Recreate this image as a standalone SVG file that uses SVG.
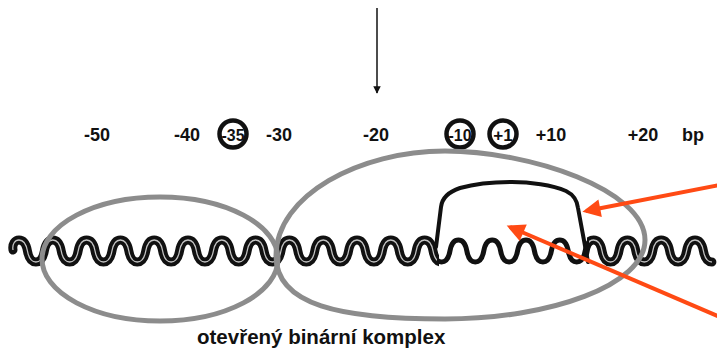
<svg xmlns="http://www.w3.org/2000/svg" xmlns:xlink="http://www.w3.org/1999/xlink" width="717" height="355" viewBox="0 0 717 355">
  <style>
    .lbl { font-family: "Liberation Sans", Arial, sans-serif; font-weight: bold; font-size: 18px; fill: #111; text-anchor: middle; }
    .lbl-in { font-family: "Liberation Sans", Arial, sans-serif; font-weight: bold; font-size: 17px; fill: #111; text-anchor: middle; }
    .title { font-family: "Liberation Sans", Arial, sans-serif; font-weight: bold; font-size: 20.5px; fill: #111; }
    .ring { fill: none; stroke: #111; stroke-width: 4.5; }
    .duplex { fill: none; stroke: #111; stroke-width: 9; stroke-linecap: round; stroke-linejoin: round; }
    .groove { fill: none; stroke: #fff; stroke-width: 1.3; opacity: 0.75; }
    .single { fill: none; stroke: #111; stroke-width: 5; stroke-linecap: round; }
    .bubble { fill: none; stroke: #111; stroke-width: 4; stroke-linecap: round; stroke-linejoin: round; }
    .domain { fill: none; stroke: #8c8c8c; stroke-width: 5; }
    .pointer { fill: none; stroke: #ff4a14; stroke-width: 4; }
    .site { fill: none; stroke: #111; stroke-width: 1.5; }
  </style>
  <defs>
    <!-- one helical turn = 33.8 px, amplitude 11 px around y = 251, steep flanks -->
    <path id="helix" d="M13,250 C12,244 15,240 19,240
      c4.45,0 7.25,4.5 8.45,11 c1.2,6.5 4,11 8.45,11 c4.45,0 7.25,-4.5 8.45,-11
      c1.2,-6.5 4,-11 8.45,-11 c4.45,0 7.25,4.5 8.45,11 c1.2,6.5 4,11 8.45,11 c4.45,0 7.25,-4.5 8.45,-11
      c1.2,-6.5 4,-11 8.45,-11 c4.45,0 7.25,4.5 8.45,11 c1.2,6.5 4,11 8.45,11 c4.45,0 7.25,-4.5 8.45,-11
      c1.2,-6.5 4,-11 8.45,-11 c4.45,0 7.25,4.5 8.45,11 c1.2,6.5 4,11 8.45,11 c4.45,0 7.25,-4.5 8.45,-11
      c1.2,-6.5 4,-11 8.45,-11 c4.45,0 7.25,4.5 8.45,11 c1.2,6.5 4,11 8.45,11 c4.45,0 7.25,-4.5 8.45,-11
      c1.2,-6.5 4,-11 8.45,-11 c4.45,0 7.25,4.5 8.45,11 c1.2,6.5 4,11 8.45,11 c4.45,0 7.25,-4.5 8.45,-11
      c1.2,-6.5 4,-11 8.45,-11 c4.45,0 7.25,4.5 8.45,11 c1.2,6.5 4,11 8.45,11 c4.45,0 7.25,-4.5 8.45,-11
      c1.2,-6.5 4,-11 8.45,-11 c4.45,0 7.25,4.5 8.45,11 c1.2,6.5 4,11 8.45,11 c4.45,0 7.25,-4.5 8.45,-11
      c1.2,-6.5 4,-11 8.45,-11 c4.45,0 7.25,4.5 8.45,11 c1.2,6.5 4,11 8.45,11 c4.45,0 7.25,-4.5 8.45,-11
      c1.2,-6.5 4,-11 8.45,-11 c4.45,0 7.25,4.5 8.45,11 c1.2,6.5 4,11 8.45,11 c4.45,0 7.25,-4.5 8.45,-11
      c1.2,-6.5 4,-11 8.45,-11 c4.45,0 7.25,4.5 8.45,11 c1.2,6.5 4,11 8.45,11 c4.45,0 7.25,-4.5 8.45,-11
      c1.2,-6.5 4,-11 8.45,-11 c4.45,0 7.25,4.5 8.45,11 c1.2,6.5 4,11 8.45,11 c4.45,0 7.25,-4.5 8.45,-11
      c1.2,-6.5 4,-11 8.45,-11 c4.45,0 7.25,4.5 8.45,11 c1.2,6.5 4,11 8.45,11 c4.45,0 7.25,-4.5 8.45,-11
      c1.2,-6.5 4,-11 8.45,-11 c4.45,0 7.25,4.5 8.45,11 c1.2,6.5 4,11 8.45,11 c4.45,0 7.25,-4.5 8.45,-11
      c1.2,-6.5 4,-11 8.45,-11 c4.45,0 7.25,4.5 8.45,11 c1.2,6.5 4,11 8.45,11 c4.45,0 7.25,-4.5 8.45,-11
      c1.2,-6.5 4,-11 8.45,-11 c4.45,0 7.25,4.5 8.45,11 c1.2,6.5 4,11 8.45,11 c4.45,0 7.25,-4.5 8.45,-11
      c1.2,-6.5 4,-11 8.45,-11 c4.45,0 7.25,4.5 8.45,11 c1.2,6.5 4,11 8.45,11 c4.45,0 7.25,-4.5 8.45,-11
      c1.2,-6.5 4,-11 8.45,-11 c4.45,0 7.25,4.5 8.45,11 c1.2,6.5 4,11 8.45,11 c4.45,0 7.25,-4.5 8.45,-11
      c1.2,-6.5 4,-11 8.45,-11 c4.45,0 7.25,4.5 8.45,11 c1.2,6.5 4,11 8.45,11 c4.45,0 7.25,-4.5 8.45,-11
      c1.2,-6.5 4,-11 8.45,-11 c4.45,0 7.25,4.5 8.45,11 c1.2,6.5 4,11 8.45,11 c4.45,0 7.25,-4.5 8.45,-11
      c1.2,-6.5 4,-11 8.45,-11 c4.45,0 7.25,4.5 8.45,11 c1.2,6.5 4,11 8.45,11"/>
    <clipPath id="ds-zone">
      <rect x="0" y="200" width="439" height="100"/>
      <rect x="587" y="200" width="130" height="100"/>
    </clipPath>
    <clipPath id="ss-zone">
      <rect x="437" y="200" width="152" height="100"/>
    </clipPath>
    <marker id="head-black" viewBox="0 0 10 10" refX="9" refY="5" markerWidth="5" markerHeight="6" orient="auto" markerUnits="strokeWidth">
      <path d="M0,0 L10,5 L0,10 Z" fill="#111"/>
    </marker>
    <marker id="head-orange" viewBox="0 0 10 10" refX="8" refY="5" markerWidth="5.5" markerHeight="4.5" orient="auto" markerUnits="strokeWidth">
      <path d="M0,0 L10,5 L0,10 Z" fill="#ff4a14"/>
    </marker>
  </defs>

  <rect width="717" height="355" fill="#fff"/>

  <!-- position scale -->
  <g id="scale">
    <text class="lbl" x="97" y="141">-50</text>
    <text class="lbl" x="187" y="141">-40</text>
    <g id="box-35">
      <circle class="ring" cx="233" cy="134" r="13.5"/>
      <text class="lbl-in" x="233" y="140.5" textLength="23" lengthAdjust="spacingAndGlyphs">-35</text>
    </g>
    <text class="lbl" x="279" y="141">-30</text>
    <text class="lbl" x="376" y="141">-20</text>
    <g id="box-10">
      <circle class="ring" cx="460" cy="134" r="13.5"/>
      <text class="lbl-in" x="460" y="140.5" textLength="23" lengthAdjust="spacingAndGlyphs">-10</text>
    </g>
    <g id="start-site">
      <circle class="ring" cx="503" cy="134" r="13.5"/>
      <text class="lbl-in" x="503" y="140.5">+1</text>
    </g>
    <text class="lbl" x="551" y="141">+10</text>
    <text class="lbl" x="643" y="141">+20</text>
    <text class="lbl" x="693" y="141">bp</text>
  </g>

  <!-- DNA: duplex, melted template strand and displaced non-template strand -->
  <g id="dna">
    <use xlink:href="#helix" class="duplex" clip-path="url(#ds-zone)"/>
    <use xlink:href="#helix" class="groove" clip-path="url(#ds-zone)"/>
    <use xlink:href="#helix" class="single" clip-path="url(#ss-zone)"/>
    <path id="bubble" class="bubble" d="M436,247 L441,207 C442,198 448,192 460,188 C478,183 495,182 512,182 C530,182 552,185 566,191 C574,195 577,200 578,208 L588,262"/>
  </g>

  <!-- polymerase footprint: upstream domain and core -->
  <g id="upstream-domain">
    <ellipse class="domain" cx="160" cy="259" rx="118" ry="62"/>
  </g>
  <g id="core-domain">
    <path class="domain" d="M276,256 C276,195 360,151 445,151 C530,151 645,190 645,240 C645,285 550,319 445,319 C340,319 276,305 276,256 Z"/>
  </g>

  <g id="title">
    <text class="title" x="197" y="344">otevřený binární komplex</text>
  </g>

  <!-- connectors -->
  <g id="connectors">
    <line class="site" x1="377" y1="8" x2="377" y2="93" marker-end="url(#head-black)"/>
    <line class="pointer" x1="720" y1="185" x2="586" y2="211" marker-end="url(#head-orange)"/>
    <line class="pointer" x1="720" y1="317" x2="510" y2="227" marker-end="url(#head-orange)"/>
  </g>
</svg>
